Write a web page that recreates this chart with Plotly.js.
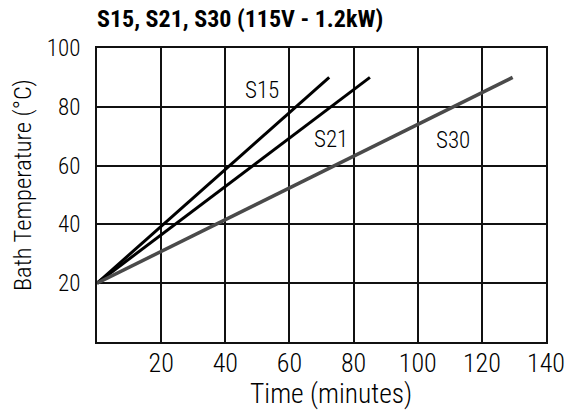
<!DOCTYPE html>
<html>
<head>
<meta charset="utf-8">
<script src="https://cdn.plot.ly/plotly-3.0.1.min.js"></script>
<style>
  html, body { margin: 0; padding: 0; background: #fff; }
  #chart { width: 571px; height: 410px; }
</style>
</head>
<body>
<div id="chart"></div>
<script>
// ---- data ----
const seriesNames = ['S15', 'S21', 'S30'];
const s15Time = [0, 72.4];
const s15Temp = [20, 90];
const s21Time = [0, 85.1];
const s21Temp = [20, 90];
const s30Time = [0, 129.6];
const s30Temp = [20, 90];
const xTickVals = [20, 40, 60, 80, 100, 120, 140];
const yTickVals = [20, 40, 60, 80, 100];
const chartTitle = 'S15, S21, S30 (115V - 1.2kW)';
const xTitle = 'Time (minutes)';
const yTitle = 'Bath Temperature (°C)';

const FONT = '"Roboto Condensed", "DejaVu Sans Condensed", "Liberation Sans Narrow", sans-serif';
const INK = '#111111';
const TXT = '#000000';

const traces = [
  { x: s15Time, y: s15Temp, name: seriesNames[0], mode: 'lines', line: { color: '#000000', width: 3 } },
  { x: s21Time, y: s21Temp, name: seriesNames[1], mode: 'lines', line: { color: '#000000', width: 3 } },
  { x: s30Time, y: s30Temp, name: seriesNames[2], mode: 'lines', line: { color: '#4a4a4a', width: 3.5 } }
];

const labelPos = [[51.6, 85.7], [73.1, 69.0], [111.1, 68.6]];
const annotations = seriesNames.map((n, i) => ({
  x: labelPos[i][0], y: labelPos[i][1], xref: 'x', yref: 'y',
  text: n, showarrow: false, xanchor: 'center', yanchor: 'middle',
  font: { family: FONT, size: 23, color: TXT, weight: 300 }
}));
// axis titles (placed as in the reference, slightly off-centre)
annotations.push({
  text: xTitle, xref: 'paper', yref: 'paper', x: 0.522, y: -0.175,
  xanchor: 'center', yanchor: 'middle', showarrow: false, borderpad: 0,
  font: { family: FONT, size: 27.5, color: TXT, weight: 300 }
});
annotations.push({
  text: yTitle, xref: 'paper', yref: 'paper', x: -0.167, y: 0.534,
  xanchor: 'center', yanchor: 'middle', showarrow: false, textangle: -90,
  font: { family: FONT, size: 24.5, color: TXT, weight: 300 }
});

const layout = {
  width: 571, height: 410,
  margin: { l: 97, r: 25, t: 48, b: 68 },
  paper_bgcolor: '#ffffff', plot_bgcolor: '#ffffff',
  showlegend: false,
  font: { family: FONT, color: TXT },
  title: {
    text: '<b>' + chartTitle + '</b>',
    font: { family: FONT, size: 24, color: TXT },
    xref: 'paper', x: 0, xanchor: 'left',
    yref: 'container', y: 1 - 19 / 410, yanchor: 'middle'
  },
  xaxis: {
    range: [0, 140], tickvals: xTickVals, ticktext: xTickVals.map(String),
    showgrid: true, gridcolor: INK, gridwidth: 2,
    showline: true, mirror: true, linecolor: INK, linewidth: 2,
    zeroline: false, ticks: '', ticklabelstandoff: -3,
    tickfont: { family: FONT, size: 26, color: TXT, weight: 300 }
  },
  yaxis: {
    range: [0, 100], tickvals: yTickVals, ticktext: yTickVals.map(String),
    showgrid: true, gridcolor: INK, gridwidth: 2,
    showline: true, mirror: true, linecolor: INK, linewidth: 2,
    zeroline: false, ticks: '', ticklabelstandoff: 10,
    tickfont: { family: FONT, size: 23, color: TXT, weight: 300 }
  },
  annotations: annotations
};

Plotly.newPlot('chart', traces, layout, { staticPlot: true, displayModeBar: false });
</script>
</body>
</html>
